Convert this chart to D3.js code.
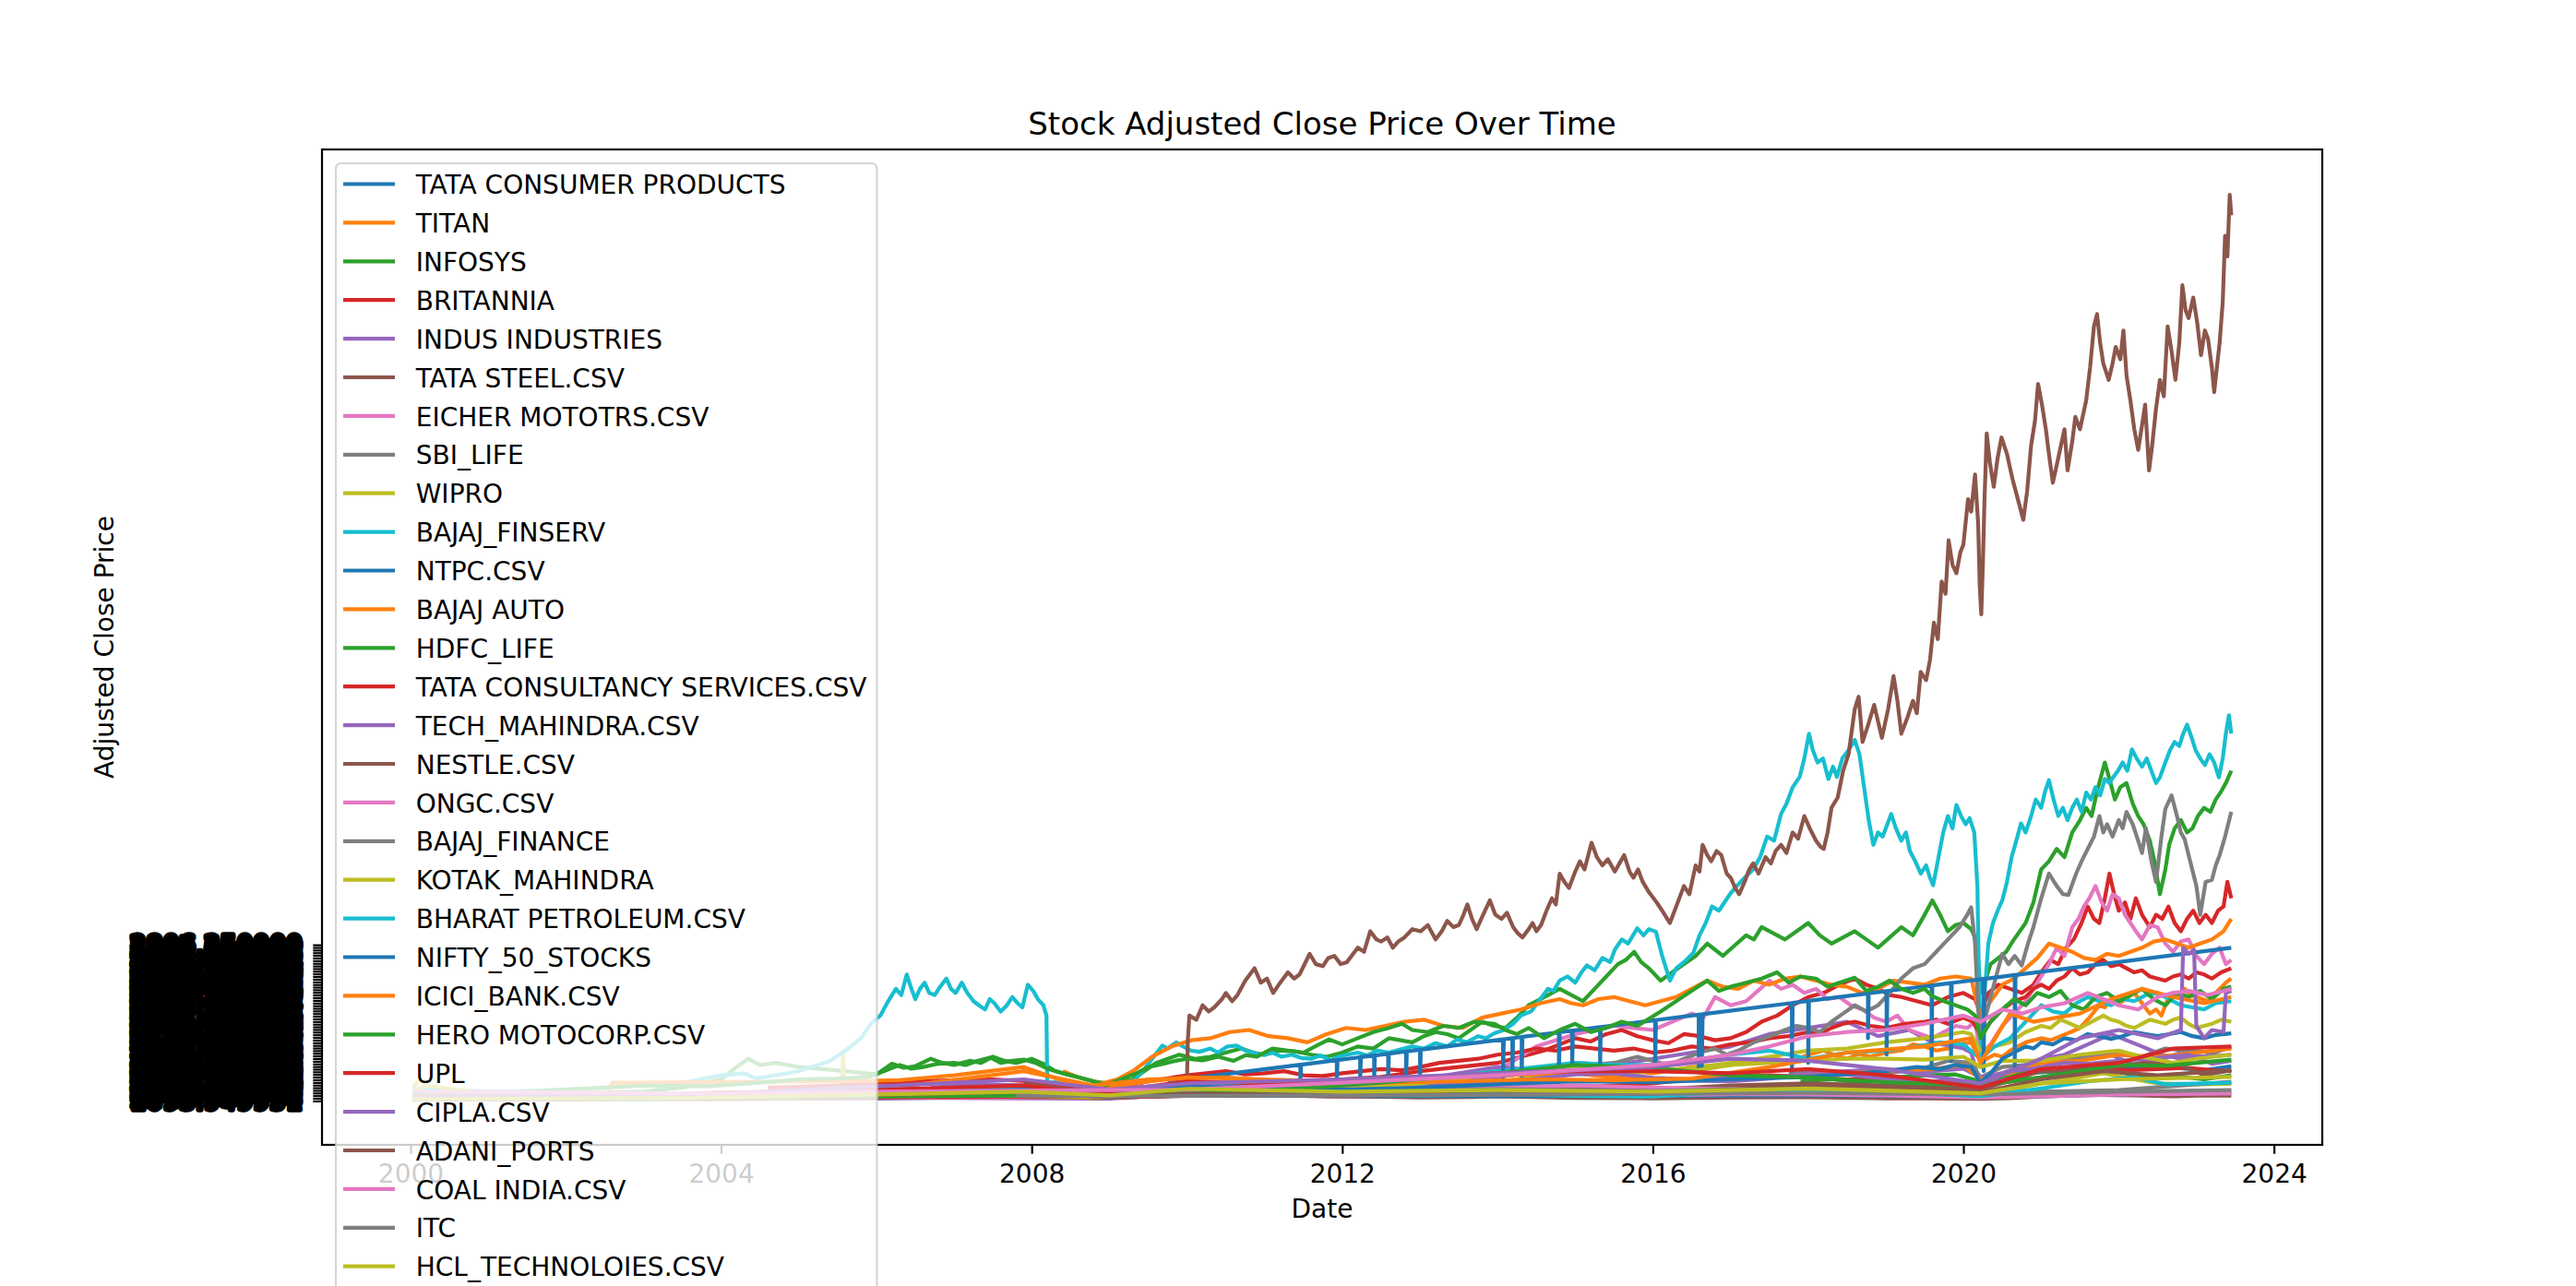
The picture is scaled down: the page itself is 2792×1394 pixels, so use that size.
<!DOCTYPE html>
<html>
<head>
<meta charset="utf-8">
<title>Stock Adjusted Close Price Over Time</title>
<script src="https://cdn.jsdelivr.net/npm/d3@7"></script>
<style>
  html, body { margin: 0; padding: 0; background: #ffffff; }
  svg { display: block; font-family: "DejaVu Sans", sans-serif; }
</style>
</head>
<body>
<div id="chart"></div>
<script>
// Series: [decimal year, adjusted close]
const tataConsumer = [[2000.03,40],[2002,35],[2004,60],[2006,90],[2007.9,110],[2008.8,50],[2010,100],[2011,110],[2012,140],[2013,170],[2014,180],[2015,200],[2016,160],[2017,190],[2018,280],[2019,260],[2019.6,330],[2020.1,380],[2020.22,260],[2020.5,560],[2020.8,650],[2021.1,680],[2021.4,720],[2021.7,830],[2022.0,760],[2022.3,800],[2022.7,790],[2023.1,720],[2023.45,820]];
const titan = [[2000.03,10],[2002,12],[2003,15],[2004,25],[2005,40],[2006,70],[2007,100],[2008,130],[2008.8,60],[2009.5,120],[2010,200],[2010.5,300],[2011,320],[2011.5,350],[2012,300],[2012.5,450],[2013,420],[2013.5,350],[2014,400],[2014.5,600],[2015,700],[2015.5,750],[2016,650],[2016.5,800],[2017,850],[2017.3,950],[2017.5,1000],[2017.8,950],[2018.0,1100],[2018.2,1200],[2018.35,1080],[2018.5,1000],[2018.65,1120],[2018.8,1050],[2019.0,1150],[2019.2,1200],[2019.35,1350],[2019.5,1300],[2019.65,1200],[2019.8,1250],[2019.95,1350],[2020.1,1400],[2020.17,1150],[2020.22,900],[2020.3,1000],[2020.4,1100],[2020.5,1050],[2020.6,1200],[2020.7,1300],[2020.8,1400],[2020.9,1450],[2021.0,1500],[2021.12,1450],[2021.25,1550],[2021.38,1650],[2021.5,1750],[2021.62,2000],[2021.75,2300],[2021.82,2250],[2021.9,2450],[2021.98,2350],[2022.05,2400],[2022.12,2500],[2022.2,2600],[2022.3,2350],[2022.4,2100],[2022.48,2200],[2022.55,2050],[2022.62,2400],[2022.7,2600],[2022.78,2550],[2022.85,2700],[2022.92,2550],[2023.0,2500],[2023.08,2450],[2023.15,2400],[2023.22,2550],[2023.3,2700],[2023.38,2850],[2023.45,2950]];
const infosys = [[2000.03,150],[2000.5,180],[2001,140],[2002,160],[2003,200],[2003.5,300],[2004,500],[2004.2,800],[2004.35,1000],[2004.5,850],[2004.7,900],[2005,800],[2005.3,750],[2005.6,700],[2006.0,620],[2006.2,880],[2006.35,780],[2006.5,820],[2006.7,1000],[2006.85,900],[2007.0,850],[2007.2,950],[2007.35,900],[2007.5,1050],[2007.65,950],[2007.8,900],[2008.0,1000],[2008.15,880],[2008.3,700],[2008.45,620],[2008.6,550],[2008.8,450],[2009.0,400],[2009.15,430],[2009.3,500],[2009.45,700],[2009.6,900],[2009.75,1000],[2009.9,1100],[2010.1,1000],[2010.3,1050],[2010.5,1150],[2010.7,1250],[2010.85,1150],[2011.0,1100],[2011.2,1200],[2011.4,1180],[2011.6,1100],[2011.8,1050],[2012.0,1150],[2012.2,1300],[2012.4,1250],[2012.6,1500],[2012.75,1450],[2012.9,1400],[2013.05,1550],[2013.2,1650],[2013.35,1600],[2013.5,1500],[2013.65,1700],[2013.8,1900],[2013.95,1800],[2014.1,1750],[2014.25,2000],[2014.4,2300],[2014.55,2450],[2014.7,2600],[2014.8,2700],[2014.95,2550],[2015.1,2400],[2015.25,2700],[2015.4,3000],[2015.55,3300],[2015.65,3400],[2015.76,3600],[2015.85,3350],[2015.95,3200],[2016.1,2900],[2016.25,3100],[2016.4,3300],[2016.55,3500],[2016.7,3800],[2016.8,3650],[2016.9,3500],[2017.05,3750],[2017.2,4000],[2017.3,3900],[2017.4,4200],[2017.55,4050],[2017.7,3900],[2017.85,4100],[2018.0,4300],[2018.15,4000],[2018.3,3800],[2018.45,3950],[2018.6,4100],[2018.75,3900],[2018.9,3700],[2019.05,3950],[2019.2,4200],[2019.35,4000],[2019.5,4500],[2019.6,4850],[2019.7,4500],[2019.8,4100],[2019.9,4250],[2020.0,4300],[2020.1,4150],[2020.15,3950],[2020.2,3200],[2020.22,2600],[2020.28,2900],[2020.35,3300],[2020.45,3450],[2020.55,3600],[2020.65,3900],[2020.8,4300],[2020.9,4800],[2021.0,5600],[2021.1,5800],[2021.2,6100],[2021.3,5900],[2021.4,6500],[2021.5,6800],[2021.58,7100],[2021.65,6900],[2021.72,7500],[2021.82,8200],[2021.88,7800],[2021.95,7300],[2022.02,7600],[2022.1,7700],[2022.18,7200],[2022.25,6900],[2022.32,6700],[2022.4,6300],[2022.46,5800],[2022.53,5000],[2022.6,5600],[2022.65,6200],[2022.72,6600],[2022.8,6800],[2022.88,6500],[2022.95,6600],[2023.02,6900],[2023.1,7100],[2023.18,7000],[2023.25,7300],[2023.32,7500],[2023.38,7700],[2023.45,8000]];
const britannia = [[2000.03,100],[2001,90],[2002,110],[2003,130],[2004,180],[2005,200],[2006,220],[2007,240],[2008,250],[2008.8,200],[2009.5,260],[2010,350],[2010.5,380],[2011,420],[2011.5,460],[2012,500],[2012.5,560],[2013,700],[2013.5,800],[2014,900],[2014.3,1050],[2014.6,1200],[2014.8,1350],[2015.0,1500],[2015.2,1420],[2015.4,1600],[2015.6,1700],[2015.8,1550],[2016.0,1450],[2016.2,1380],[2016.4,1600],[2016.6,1550],[2016.8,1450],[2017.0,1500],[2017.2,1650],[2017.4,1900],[2017.6,2050],[2017.8,2300],[2018.0,2500],[2018.2,2600],[2018.4,2800],[2018.6,2950],[2018.75,2800],[2018.9,2700],[2019.05,2550],[2019.2,2500],[2019.4,2400],[2019.6,2300],[2019.8,2500],[2020.0,2600],[2020.15,2450],[2020.22,2100],[2020.32,2600],[2020.45,2800],[2020.6,2700],[2020.75,2600],[2020.9,2800],[2021.0,3100],[2021.12,3400],[2021.22,3300],[2021.32,3700],[2021.42,3900],[2021.52,4300],[2021.6,4700],[2021.68,4400],[2021.75,4300],[2021.82,4900],[2021.88,5500],[2021.94,5000],[2022.0,4600],[2022.08,4800],[2022.15,4400],[2022.22,4900],[2022.3,4500],[2022.4,4200],[2022.48,4500],[2022.56,4400],[2022.64,4700],[2022.72,4300],[2022.8,4100],[2022.88,4400],[2022.96,4600],[2023.04,4300],[2023.12,4500],[2023.2,4300],[2023.28,4600],[2023.35,4700],[2023.4,5300],[2023.45,4900]];
const indus = [[2000.03,10],[2002,8],[2004,20],[2006,30],[2007,50],[2008,40],[2009,30],[2010,150],[2011,250],[2012,350],[2013,400],[2014,550],[2014.5,700],[2015,900],[2015.5,850],[2016,1000],[2016.5,1150],[2017,1300],[2017.5,1600],[2018,1750],[2018.5,1900],[2018.9,1550],[2019.3,1700],[2019.6,1400],[2020.0,1250],[2020.1,1150],[2020.22,350],[2020.35,450],[2020.5,500],[2020.8,800],[2021.0,950],[2021.3,900],[2021.6,1000],[2021.9,1100],[2022.2,850],[2022.5,950],[2022.8,1150],[2023.1,1050],[2023.45,1300]];
const tataSteel = [[2000.03,30],[2002,25],[2003,40],[2004,80],[2005,70],[2006,90],[2007,110],[2008,150],[2008.8,40],[2009.5,80],[2010,110],[2010.5,100],[2011,120],[2011.8,80],[2012.5,75],[2013,60],[2013.7,70],[2014,90],[2015,50],[2016,40],[2017,60],[2018,65],[2019,40],[2019.6,38],[2020.22,25],[2020.6,45],[2021,80],[2021.4,110],[2021.6,125],[2022.2,110],[2022.7,90],[2023.1,110],[2023.45,105]];
const eicher = [[2000.03,20],[2004,40],[2006,60],[2008,50],[2009,60],[2010,150],[2011,250],[2012,350],[2013,500],[2014,700],[2014.5,1300],[2015,1600],[2015.5,1800],[2016,1700],[2016.25,1900],[2016.5,2100],[2016.65,2000],[2016.8,2500],[2017.0,2300],[2017.2,2400],[2017.35,2650],[2017.5,2900],[2017.65,2700],[2017.8,2800],[2017.95,2600],[2018.1,2700],[2018.25,2450],[2018.4,2500],[2018.55,2300],[2018.7,2200],[2018.85,2000],[2019.0,1900],[2019.15,2050],[2019.3,1700],[2019.45,1600],[2019.6,1500],[2019.75,1650],[2019.9,1800],[2020.05,1750],[2020.15,1900],[2020.22,1100],[2020.35,1350],[2020.5,1800],[2020.65,2100],[2020.8,2400],[2020.9,2700],[2021.0,3000],[2021.1,3300],[2021.2,3700],[2021.3,3500],[2021.4,4200],[2021.48,4400],[2021.55,4700],[2021.62,4900],[2021.7,5200],[2021.78,4800],[2021.85,4600],[2021.92,5000],[2022.0,4900],[2022.08,4500],[2022.15,4300],[2022.22,4100],[2022.3,3900],[2022.4,4250],[2022.5,4200],[2022.6,3800],[2022.7,3600],[2022.8,3850],[2022.9,3900],[2023.0,3500],[2023.1,3300],[2023.2,3550],[2023.3,3700],[2023.38,3300],[2023.45,3400]];
const sbiLife = [[2017.75,650],[2018.0,700],[2018.3,650],[2018.6,620],[2018.9,600],[2019.2,700],[2019.5,780],[2019.8,950],[2020.1,900],[2020.22,550],[2020.5,800],[2020.8,850],[2021.0,900],[2021.3,950],[2021.5,1050],[2021.8,1150],[2022.0,1100],[2022.3,1050],[2022.6,1250],[2022.9,1200],[2023.2,1150],[2023.45,1280]];
const wipro = [[2000.03,300],[2000.12,500],[2000.25,280],[2000.5,250],[2001,200],[2002,150],[2003,100],[2004,120],[2005,140],[2005.55,160],[2005.57,1100],[2005.59,170],[2006,170],[2007,160],[2008,120],[2009,80],[2010,150],[2011,140],[2012,120],[2013,140],[2014,200],[2015,220],[2016,190],[2017,200],[2018,250],[2019,240],[2020.22,170],[2020.6,250],[2021,400],[2021.5,550],[2021.8,650],[2022.2,500],[2022.5,400],[2023,380],[2023.45,390]];
const bajajFinserv = [[2000.03,260],[2000.5,230],[2001,200],[2001.5,220],[2002,250],[2002.6,310],[2003,350],[2003.3,330],[2003.6,450],[2004,600],[2004.3,650],[2004.45,520],[2004.7,600],[2005,700],[2005.2,820],[2005.4,950],[2005.6,1200],[2005.8,1500],[2005.95,1900],[2006.05,2050],[2006.15,2400],[2006.25,2700],[2006.32,2550],[2006.39,3050],[2006.45,2700],[2006.5,2450],[2006.56,2700],[2006.62,2850],[2006.68,2600],[2006.75,2550],[2006.82,2750],[2006.9,2950],[2006.96,2700],[2007.02,2600],[2007.1,2850],[2007.17,2600],[2007.25,2400],[2007.32,2300],[2007.4,2200],[2007.46,2450],[2007.52,2350],[2007.6,2150],[2007.68,2300],[2007.75,2500],[2007.82,2350],[2007.88,2250],[2007.95,2800],[2008.02,2650],[2008.08,2450],[2008.15,2300],[2008.19,2050],[2008.2,420],[2008.3,430],[2008.4,380],[2008.5,400],[2008.6,330],[2008.7,300],[2008.8,250],[2008.97,340],[2009.1,300],[2009.2,380],[2009.33,490],[2009.45,750],[2009.55,1000],[2009.68,1320],[2009.75,1250],[2009.86,1400],[2009.95,1300],[2010.05,1200],[2010.16,1170],[2010.3,1250],[2010.4,1150],[2010.52,1300],[2010.64,1320],[2010.75,1200],[2010.85,1150],[2010.99,1090],[2011.1,1150],[2011.22,1050],[2011.35,1100],[2011.47,1020],[2011.6,1000],[2011.72,1080],[2011.85,960],[2011.95,1050],[2012.06,1100],[2012.2,1150],[2012.32,1080],[2012.45,1200],[2012.6,1150],[2012.77,1240],[2012.9,1300],[2013.05,1250],[2013.2,1380],[2013.35,1300],[2013.48,1470],[2013.6,1400],[2013.75,1550],[2013.85,1500],[2013.96,1620],[2014.08,1700],[2014.2,1850],[2014.3,2050],[2014.43,2150],[2014.55,2450],[2014.65,2700],[2014.72,2650],[2014.8,2900],[2014.9,3000],[2015.0,2850],[2015.08,3100],[2015.15,3270],[2015.25,3150],[2015.35,3450],[2015.45,3350],[2015.51,3650],[2015.6,3900],[2015.68,3800],[2015.8,4170],[2015.88,4000],[2015.95,4150],[2016.04,4090],[2016.12,3500],[2016.22,2900],[2016.3,3200],[2016.4,3350],[2016.52,3570],[2016.6,4000],[2016.68,4300],[2016.76,4700],[2016.85,4600],[2016.92,4800],[2016.99,5000],[2017.08,5200],[2017.18,5400],[2017.29,5600],[2017.38,5900],[2017.47,6400],[2017.56,6300],[2017.65,6950],[2017.72,7200],[2017.8,7600],[2017.89,7850],[2017.95,8300],[2018.01,8900],[2018.06,8500],[2018.12,8200],[2018.19,8300],[2018.26,7800],[2018.32,8100],[2018.37,7850],[2018.44,8300],[2018.52,8500],[2018.6,8750],[2018.66,8400],[2018.72,7600],[2018.78,6800],[2018.84,6200],[2018.9,6500],[2018.96,6400],[2019.02,6700],[2019.07,6950],[2019.13,6600],[2019.2,6300],[2019.26,6500],[2019.31,6050],[2019.38,5800],[2019.45,5500],[2019.52,5700],[2019.57,5400],[2019.61,5220],[2019.68,5900],[2019.74,6500],[2019.8,6900],[2019.86,6600],[2019.91,7170],[2019.97,6900],[2020.03,6700],[2020.08,6850],[2020.14,6500],[2020.18,5200],[2020.2,3000],[2020.22,1500],[2020.24,900],[2020.27,2500],[2020.32,3800],[2020.38,4300],[2020.44,4600],[2020.5,4850],[2020.56,5300],[2020.62,5900],[2020.68,6300],[2020.74,6720],[2020.8,6500],[2020.87,6900],[2020.93,7300],[2021.0,7100],[2021.05,7500],[2021.1,7770],[2021.16,7300],[2021.22,6900],[2021.28,7100],[2021.34,6800],[2021.4,7100],[2021.46,7300],[2021.52,7000],[2021.58,7470],[2021.64,7300],[2021.7,7600],[2021.76,7400],[2021.82,7800],[2021.88,7700],[2021.93,7850],[2021.99,8000],[2022.05,8200],[2022.11,8000],[2022.17,8520],[2022.23,8300],[2022.3,8100],[2022.36,8300],[2022.42,8000],[2022.48,7700],[2022.53,7840],[2022.6,8200],[2022.66,8500],[2022.72,8700],[2022.78,8600],[2022.83,8900],[2022.88,9120],[2022.94,8800],[2022.99,8500],[2023.05,8300],[2023.11,8140],[2023.17,8400],[2023.23,8200],[2023.29,7840],[2023.34,8300],[2023.38,8900],[2023.42,9350],[2023.45,8900]];
const ntpc = [[2004.8,60],[2006,70],[2007,100],[2008,120],[2009,100],[2010,110],[2012,100],[2014,90],[2016,100],[2018,110],[2019,95],[2020.22,70],[2021,90],[2022,130],[2023.45,170]];
const bajajAuto = [[2008.4,700],[2008.6,550],[2008.9,400],[2009.1,500],[2009.3,700],[2009.55,1050],[2009.8,1300],[2010.05,1450],[2010.3,1500],[2010.55,1650],[2010.8,1700],[2011.05,1550],[2011.3,1500],[2011.55,1400],[2011.8,1600],[2012.05,1750],[2012.3,1700],[2012.55,1800],[2012.8,1900],[2013.05,1950],[2013.3,1800],[2013.55,1750],[2013.8,2000],[2014.05,2100],[2014.3,2200],[2014.55,2350],[2014.8,2450],[2014.95,2350],[2015.1,2300],[2015.3,2450],[2015.5,2500],[2015.7,2400],[2015.9,2300],[2016.1,2400],[2016.3,2500],[2016.5,2700],[2016.7,2900],[2016.9,2750],[2017.1,2700],[2017.3,2900],[2017.5,2800],[2017.7,2950],[2017.9,3000],[2018.1,2900],[2018.3,2800],[2018.5,2750],[2018.7,2600],[2018.9,2700],[2019.1,2900],[2019.3,2850],[2019.5,2800],[2019.7,2950],[2019.9,3000],[2020.1,2950],[2020.22,2000],[2020.35,2400],[2020.5,2800],[2020.65,2950],[2020.8,3200],[2020.95,3450],[2021.1,3800],[2021.25,3700],[2021.4,3600],[2021.55,3450],[2021.7,3400],[2021.85,3550],[2022.0,3500],[2022.15,3600],[2022.3,3700],[2022.45,3850],[2022.6,3900],[2022.75,3800],[2022.9,3700],[2023.05,3800],[2023.2,3900],[2023.35,4100],[2023.45,4400]];
const hdfcLife = [[2017.9,450],[2018.3,500],[2018.7,420],[2019.1,550],[2019.5,600],[2019.9,620],[2020.22,450],[2020.6,620],[2021.0,700],[2021.5,680],[2021.9,720],[2022.3,560],[2022.7,580],[2023.1,500],[2023.45,600]];
const tcs = [[2004.6,300],[2005.0,320],[2005.5,350],[2006.0,420],[2006.5,450],[2007.0,480],[2007.5,500],[2008.0,450],[2008.5,300],[2009.0,250],[2009.5,450],[2010.0,600],[2010.25,650],[2010.5,700],[2010.75,620],[2011.0,650],[2011.25,700],[2011.5,600],[2011.75,580],[2012.0,650],[2012.25,700],[2012.5,750],[2012.75,720],[2013.0,800],[2013.25,900],[2013.5,950],[2013.75,1000],[2014.0,1100],[2014.25,1150],[2014.5,1250],[2014.75,1200],[2015.0,1300],[2015.25,1250],[2015.5,1200],[2015.75,1250],[2016.0,1150],[2016.25,1200],[2016.5,1300],[2016.75,1250],[2017.0,1350],[2017.25,1400],[2017.5,1500],[2017.75,1550],[2018.0,1650],[2018.15,1600],[2018.3,1750],[2018.45,1850],[2018.6,1900],[2018.8,1800],[2019.0,1750],[2019.25,1850],[2019.5,1900],[2019.65,1950],[2019.8,1850],[2020.0,2000],[2020.12,1900],[2020.22,1600],[2020.35,1900],[2020.5,2200],[2020.65,2400],[2020.8,2500],[2020.9,2700],[2021.0,2800],[2021.1,2700],[2021.2,2900],[2021.3,3000],[2021.4,3200],[2021.5,3050],[2021.6,3100],[2021.7,3300],[2021.8,3400],[2021.9,3250],[2022.0,3300],[2022.1,3200],[2022.2,3100],[2022.3,3150],[2022.4,3000],[2022.5,2950],[2022.6,2900],[2022.7,3000],[2022.8,3050],[2022.9,2950],[2023.0,3100],[2023.1,3050],[2023.2,2950],[2023.32,3100],[2023.45,3200]];
const techMahindra = [[2006.7,300],[2007.3,380],[2008,350],[2008.5,200],[2009,100],[2009.5,180],[2010,250],[2010.5,230],[2011,200],[2011.5,260],[2012,300],[2012.5,380],[2013,500],[2013.5,650],[2014,800],[2014.5,720],[2015,650],[2015.5,560],[2016,500],[2016.5,470],[2017,450],[2017.5,520],[2018,650],[2018.5,700],[2019,750],[2019.5,680],[2020,760],[2020.22,550],[2020.5,650],[2020.8,850],[2021,1000],[2021.3,1100],[2021.6,1350],[2021.9,1600],[2022.1,1450],[2022.3,1300],[2022.55,1100],[2022.8,1000],[2023.1,1050],[2023.45,1100]];
const nestle = [[2010.00,600],[2010.01,1450],[2010.03,2050],[2010.12,1950],[2010.2,2300],[2010.28,2150],[2010.35,2250],[2010.45,2450],[2010.5,2600],[2010.58,2400],[2010.65,2550],[2010.75,2900],[2010.87,3200],[2010.95,2850],[2011.03,2950],[2011.11,2600],[2011.2,2850],[2011.3,3100],[2011.38,2950],[2011.45,3050],[2011.58,3550],[2011.66,3300],[2011.75,3250],[2011.82,3450],[2011.9,3500],[2011.98,3300],[2012.06,3350],[2012.14,3550],[2012.2,3700],[2012.28,3600],[2012.36,4100],[2012.44,3900],[2012.5,3850],[2012.58,3950],[2012.65,3700],[2012.72,3850],[2012.8,3950],[2012.9,4150],[2013.01,4100],[2013.1,4250],[2013.2,3900],[2013.28,4100],[2013.35,4350],[2013.43,4200],[2013.5,4250],[2013.56,4500],[2013.61,4750],[2013.67,4400],[2013.73,4150],[2013.8,4450],[2013.9,4850],[2013.97,4500],[2014.05,4400],[2014.12,4550],[2014.2,4200],[2014.26,4050],[2014.32,3950],[2014.4,4150],[2014.45,4300],[2014.5,4100],[2014.56,4250],[2014.63,4600],[2014.7,4900],[2014.75,4750],[2014.8,5500],[2014.86,5300],[2014.92,5150],[2015.0,5550],[2015.06,5800],[2015.12,5600],[2015.21,6250],[2015.28,5900],[2015.35,5700],[2015.42,5850],[2015.51,5550],[2015.57,5750],[2015.63,5950],[2015.7,5550],[2015.75,5400],[2015.81,5600],[2015.87,5300],[2015.95,5050],[2016.05,4800],[2016.12,4600],[2016.22,4300],[2016.3,4700],[2016.4,5200],[2016.47,5000],[2016.55,5700],[2016.6,5550],[2016.64,6200],[2016.7,5950],[2016.75,5800],[2016.82,6050],[2016.88,5950],[2016.95,5500],[2017.0,5400],[2017.06,5150],[2017.11,5000],[2017.18,5300],[2017.24,5600],[2017.29,5750],[2017.36,5500],[2017.45,5900],[2017.52,5750],[2017.58,6050],[2017.65,6200],[2017.72,6000],[2017.8,6500],[2017.87,6350],[2017.95,6900],[2018.02,6600],[2018.1,6300],[2018.16,6150],[2018.2,6100],[2018.25,6500],[2018.3,7100],[2018.38,7350],[2018.45,8000],[2018.52,8400],[2018.6,9500],[2018.65,9800],[2018.7,8700],[2018.77,9100],[2018.85,9600],[2018.9,9200],[2018.95,8800],[2019.03,9500],[2019.1,10300],[2019.15,9700],[2019.2,8900],[2019.28,9300],[2019.35,9700],[2019.4,9400],[2019.45,10400],[2019.52,10200],[2019.57,10700],[2019.62,11600],[2019.67,11200],[2019.72,12600],[2019.77,12300],[2019.81,13600],[2019.86,13000],[2019.91,12800],[2019.96,13300],[2020.0,13500],[2020.06,14600],[2020.1,14300],[2020.15,15200],[2020.19,14000],[2020.21,12500],[2020.23,11800],[2020.25,13000],[2020.27,14500],[2020.3,16200],[2020.34,15500],[2020.39,14900],[2020.44,15600],[2020.49,16100],[2020.56,15700],[2020.63,15100],[2020.7,14600],[2020.77,14100],[2020.82,14800],[2020.87,15900],[2020.92,16500],[2020.96,17400],[2021.01,16900],[2021.06,16300],[2021.1,15700],[2021.15,15000],[2021.22,15600],[2021.3,16300],[2021.34,15300],[2021.4,16000],[2021.44,16600],[2021.5,16300],[2021.58,17000],[2021.63,17800],[2021.68,18800],[2021.72,19100],[2021.76,18400],[2021.8,17900],[2021.87,17500],[2021.92,17900],[2021.96,18300],[2022.02,18000],[2022.06,18700],[2022.1,17600],[2022.15,17000],[2022.2,16300],[2022.25,15800],[2022.3,16400],[2022.34,16900],[2022.39,15300],[2022.43,15900],[2022.48,16800],[2022.53,17500],[2022.58,17100],[2022.63,18800],[2022.68,18200],[2022.73,17500],[2022.78,18400],[2022.82,19800],[2022.86,19200],[2022.9,19000],[2022.96,19500],[2023.01,18900],[2023.06,18100],[2023.11,18700],[2023.15,18500],[2023.2,17800],[2023.23,17200],[2023.27,17900],[2023.3,18400],[2023.34,19400],[2023.37,21000],[2023.4,20500],[2023.43,22000],[2023.45,21500]];
const ongc = [[2000.03,40],[2004,80],[2006,100],[2008,130],[2009,90],[2010,130],[2012,110],[2014,150],[2016,110],[2017,140],[2018,130],[2019,110],[2020.22,60],[2021,90],[2022,130],[2023.45,155]];
const bajajFinance = [[2003.0,40],[2005,60],[2007,90],[2008.5,60],[2009.5,90],[2010,120],[2011,150],[2012,200],[2012.6,280],[2013,250],[2013.5,300],[2014,350],[2014.3,450],[2014.6,600],[2014.9,750],[2015.2,850],[2015.5,900],[2015.8,1050],[2016.0,950],[2016.2,850],[2016.4,1000],[2016.6,1150],[2016.8,1250],[2016.95,1100],[2017.1,1200],[2017.3,1400],[2017.5,1550],[2017.7,1700],[2017.85,1800],[2018.0,1750],[2018.15,1650],[2018.3,1900],[2018.45,2100],[2018.6,2300],[2018.75,2150],[2018.9,2300],[2019.05,2600],[2019.2,2950],[2019.35,3200],[2019.5,3300],[2019.65,3600],[2019.8,3900],[2019.95,4200],[2020.05,4500],[2020.1,4680],[2020.15,3800],[2020.19,2200],[2020.22,1500],[2020.27,1900],[2020.35,2500],[2020.42,3000],[2020.5,3550],[2020.58,3300],[2020.66,3500],[2020.75,3270],[2020.83,3800],[2020.9,4200],[2021.0,4900],[2021.1,5500],[2021.2,5200],[2021.28,5000],[2021.35,4980],[2021.45,5500],[2021.52,5800],[2021.6,6100],[2021.68,6400],[2021.75,6900],[2021.8,6500],[2021.85,6700],[2021.92,6400],[2022.0,6800],[2022.05,6600],[2022.1,7000],[2022.18,6700],[2022.25,6300],[2022.3,6000],[2022.35,6600],[2022.42,5800],[2022.48,5300],[2022.55,6400],[2022.6,7070],[2022.68,7400],[2022.75,6900],[2022.8,6500],[2022.85,6330],[2022.92,5800],[2023.0,5200],[2023.05,4500],[2023.12,5300],[2023.2,5350],[2023.25,5700],[2023.3,5950],[2023.37,6400],[2023.45,7000]];
const kotak = [[2000.03,8],[2003,15],[2005,40],[2007,120],[2008.8,50],[2010,200],[2011,240],[2012,280],[2013,350],[2014,450],[2014.5,550],[2015,650],[2015.5,620],[2016,700],[2016.5,780],[2017,900],[2017.5,1050],[2018,1200],[2018.5,1250],[2019,1400],[2019.5,1500],[2020,1650],[2020.1,1600],[2020.22,1200],[2020.4,1300],[2020.6,1400],[2020.8,1650],[2021,1800],[2021.12,1750],[2021.25,1950],[2021.38,1850],[2021.5,1750],[2021.65,1900],[2021.8,2050],[2021.9,1950],[2022.0,1900],[2022.1,1800],[2022.2,1750],[2022.3,1850],[2022.4,1950],[2022.5,1900],[2022.6,1850],[2022.7,1950],[2022.8,2000],[2022.9,1850],[2023,1750],[2023.1,1800],[2023.2,1850],[2023.32,1950],[2023.45,1900]];
const bpcl = [[2000.03,60],[2002,70],[2004,150],[2005,180],[2006,250],[2007,280],[2008,300],[2008.8,200],[2009.5,300],[2010,400],[2011,380],[2012,450],[2013,500],[2014,700],[2014.5,800],[2015,900],[2015.5,850],[2016,850],[2016.5,950],[2017,1100],[2017.5,1200],[2018,1000],[2018.5,1150],[2019,1200],[2019.4,1300],[2019.7,1400],[2020.0,1350],[2020.22,1000],[2020.4,1300],[2020.6,1500],[2020.8,1900],[2021.0,2300],[2021.15,2150],[2021.3,2100],[2021.45,2350],[2021.6,2500],[2021.75,2400],[2021.9,2300],[2022.05,2450],[2022.2,2400],[2022.35,2550],[2022.5,2600],[2022.65,2450],[2022.8,2300],[2022.95,2250],[2023.1,2200],[2023.25,2350],[2023.45,2400]];
const nifty = [[2009.75,450],[2011.46,855],[2011.46,420],[2011.47,857],[2011.93,967],[2011.93,430],[2011.94,969],[2012.23,1038],[2012.23,440],[2012.24,1040],[2012.41,1080],[2012.41,520],[2012.42,1082],[2012.59,1123],[2012.59,460],[2012.6,1125],[2012.82,1178],[2012.82,480],[2012.83,1180],[2013.0,1220],[2013.0,500],[2013.01,1222],[2014.07,1474],[2014.07,560],[2014.08,1476],[2014.19,1502],[2014.19,600],[2014.2,1504],[2014.31,1531],[2014.31,580],[2014.32,1533],[2014.79,1644],[2014.79,620],[2014.8,1646],[2014.96,1685],[2014.96,650],[2014.97,1687],[2015.32,1770],[2015.32,700],[2015.33,1772],[2016.03,1938],[2016.03,760],[2016.04,1940],[2016.59,2071],[2016.59,800],[2016.6,2073],[2016.63,2081],[2016.63,780],[2016.64,2083],[2017.79,2355],[2017.79,700],[2017.8,2357],[2018.0,2405],[2018.0,900],[2018.01,2407],[2018.77,2588],[2018.77,1500],[2018.78,2590],[2019.01,2645],[2019.01,1100],[2019.02,2647],[2019.59,2782],[2019.59,850],[2019.6,2784],[2019.84,2841],[2019.84,950],[2019.85,2843],[2020.26,2941],[2020.26,700],[2020.27,2943],[2020.66,3036],[2020.66,800],[2020.67,3038],[2023.45,3697]];
const icici = [[2000.03,100],[2001,90],[2002.5,90],[2002.6,420],[2003.5,430],[2004.5,440],[2005.5,450],[2006.3,480],[2007,600],[2007.9,800],[2008.5,400],[2009,300],[2009.5,450],[2010,550],[2011,500],[2012,450],[2013,500],[2014,600],[2015,650],[2016,450],[2017,550],[2018,600],[2019,700],[2019.6,750],[2020,850],[2020.22,500],[2020.6,650],[2021,900],[2021.5,950],[2022,1100],[2022.5,1050],[2023,1150],[2023.45,1250]];
const hero = [[2000.03,120],[2001,150],[2002,250],[2003,350],[2003.8,330],[2004.5,420],[2005,500],[2005.5,520],[2005.9,560],[2006.1,700],[2006.3,850],[2006.45,760],[2006.6,800],[2006.8,880],[2007.0,900],[2007.15,850],[2007.3,950],[2007.47,1030],[2007.6,900],[2007.75,950],[2007.9,980],[2008.05,900],[2008.2,760],[2008.4,650],[2008.6,550],[2008.8,450],[2008.95,350],[2009.15,500],[2009.35,650],[2009.5,800],[2009.68,870],[2009.85,950],[2010.0,1000],[2010.2,960],[2010.4,1050],[2010.6,950],[2010.76,1090],[2010.9,1050],[2011.1,1250],[2011.3,1200],[2011.5,1150],[2011.7,1350],[2011.83,1470],[2012.0,1350],[2012.2,1500],[2012.4,1650],[2012.6,1750],[2012.77,1850],[2012.9,1700],[2013.1,1650],[2013.3,1800],[2013.5,1750],[2013.7,1900],[2013.96,1850],[2014.1,1700],[2014.25,1600],[2014.4,1750],[2014.6,1500],[2014.8,1700],[2015.0,1850],[2015.2,1650],[2015.4,1750],[2015.6,1900],[2015.8,1800],[2016.1,2150],[2016.3,2400],[2016.5,2650],[2016.7,2900],[2016.85,2650],[2017.0,2750],[2017.2,2850],[2017.4,2950],[2017.6,3100],[2017.75,2850],[2017.9,3000],[2018.1,2950],[2018.25,2750],[2018.4,2850],[2018.6,2970],[2018.75,2650],[2018.9,2750],[2019.05,2900],[2019.2,2700],[2019.35,2600],[2019.5,2700],[2019.6,2520],[2019.75,2400],[2019.9,2300],[2020.05,2200],[2020.15,2050],[2020.22,1500],[2020.35,1900],[2020.5,2200],[2020.65,2450],[2020.8,2300],[2020.95,2600],[2021.1,2500],[2021.25,2650],[2021.4,2300],[2021.55,2200],[2021.7,2500],[2021.85,2600],[2022.0,2400],[2022.15,2550],[2022.3,2700],[2022.45,2450],[2022.6,2300],[2022.75,2600],[2022.9,2500],[2023.05,2650],[2023.2,2450],[2023.35,2700],[2023.45,2750]];
const upl = [[2000.03,10],[2004,30],[2006,60],[2008,80],[2009,60],[2010,100],[2011,120],[2012,110],[2013,150],[2014,200],[2015,300],[2016,400],[2016.5,500],[2017,550],[2017.5,600],[2018,560],[2018.5,500],[2019,520],[2019.5,450],[2020,400],[2020.22,300],[2020.5,420],[2021,550],[2021.4,650],[2021.8,800],[2022.1,720],[2022.5,750],[2022.9,780],[2023.2,720],[2023.45,700]];
const cipla = [[2000.03,80],[2002,100],[2004,120],[2006,200],[2008,180],[2009,250],[2010,300],[2010.5,320],[2011,290],[2011.5,300],[2012,320],[2012.5,380],[2013,400],[2013.5,380],[2014,400],[2014.5,520],[2015,620],[2015.5,650],[2016,540],[2016.5,500],[2017,550],[2017.5,560],[2018,600],[2018.5,620],[2019,500],[2019.5,460],[2020,450],[2020.22,400],[2020.4,600],[2020.6,700],[2020.9,760],[2021.3,900],[2021.6,880],[2022,950],[2022.4,1000],[2022.9,1100],[2023.2,880],[2023.45,950]];
const adaniPorts = [[2007.9,400],[2008.9,150],[2010,250],[2011,150],[2012,130],[2013,150],[2014,250],[2015,300],[2016,250],[2017,350],[2018,400],[2019,350],[2020.22,250],[2021,700],[2021.8,750],[2022.3,900],[2022.8,850],[2023.1,600],[2023.45,720]];
const coalIndia = [[2010.85,300],[2011.5,350],[2012,330],[2013,300],[2014,300],[2015,350],[2016,300],[2017,260],[2018,250],[2019,200],[2020.22,110],[2021,130],[2022,170],[2023.45,230]];
const itc = [[2000.03,40],[2004,50],[2006,90],[2008,100],[2010,130],[2012,200],[2014,260],[2016,220],[2017,260],[2018,270],[2019,260],[2020.22,150],[2021,200],[2022,240],[2023.45,440]];
const hcl = [[2000.03,200],[2000.2,350],[2001,150],[2003,100],[2005,120],[2007,150],[2009,60],[2010,180],[2011,220],[2012,250],[2013,400],[2014,650],[2014.5,720],[2015,800],[2015.5,780],[2016,750],[2016.5,700],[2017,850],[2017.5,900],[2018,950],[2018.5,1000],[2019,1000],[2019.5,980],[2020,1050],[2020.22,800],[2020.5,950],[2021,950],[2021.5,1100],[2022,1200],[2022.3,1050],[2022.7,900],[2023,1000],[2023.45,1100]];
const hindalco = [[2000.03,80],[2003,60],[2005,120],[2007,180],[2008,200],[2009,60],[2010,160],[2011,180],[2012,130],[2013,110],[2014,140],[2015,100],[2016,80],[2017,200],[2018,240],[2019,200],[2020.22,90],[2021,280],[2021.6,450],[2022.2,550],[2022.6,380],[2023.45,420]];
const axisBank = [[2000.03,20],[2003,25],[2005,80],[2007.9,250],[2008.9,150],[2010,320],[2011,300],[2012,250],[2013,300],[2014,380],[2015,450],[2016,430],[2017,500],[2018,560],[2019,700],[2019.4,800],[2019.7,750],[2019.9,850],[2020.1,800],[2020.22,420],[2020.35,650],[2020.5,1000],[2020.65,1150],[2020.8,1300],[2020.9,1250],[2021.0,1400],[2021.15,1350],[2021.3,1500],[2021.45,1450],[2021.6,1600],[2021.75,1550],[2021.9,1480],[2022.05,1550],[2022.2,1650],[2022.35,1600],[2022.5,1550],[2022.65,1600],[2022.8,1650],[2022.95,1550],[2023.1,1500],[2023.25,1580],[2023.45,1620]];
const reliance = [[2000.03,80],[2002,70],[2004,100],[2006,250],[2007.9,700],[2008.8,350],[2009.5,500],[2010.5,550],[2011.5,400],[2012.5,420],[2013.5,450],[2014.5,500],[2015.5,480],[2016.5,520],[2017.5,800],[2018.5,1150],[2019.5,1300],[2020.1,1500],[2020.22,900],[2020.6,2100],[2020.9,1900],[2021.5,2100],[2021.9,2450],[2022.3,2700],[2022.7,2500],[2023.1,2350],[2023.45,2500]];
const sunPharma = [[2000.03,30],[2003,40],[2005,60],[2007,100],[2009,120],[2010,160],[2011,230],[2012,350],[2013,500],[2014,650],[2015,850],[2016,780],[2017,600],[2018,550],[2019,430],[2020.22,350],[2021,550],[2022,850],[2022.6,830],[2023.45,980]];
const mahindra = [[2000.03,40],[2004,100],[2006,250],[2007.9,350],[2008.8,150],[2010,450],[2011,400],[2012,480],[2013,550],[2014,650],[2015,700],[2016,700],[2017,650],[2018,750],[2019,600],[2020.22,300],[2021,750],[2022,900],[2022.7,1250],[2023.45,1300]];
const grasim = [[2000.03,60],[2004,150],[2007.9,500],[2009,250],[2010,400],[2012,500],[2014,650],[2016,800],[2017,1000],[2018,950],[2019,750],[2020.22,400],[2021,1000],[2021.5,1500],[2022,1700],[2022.5,1500],[2022.8,1700],[2022.83,3700],[2022.9,3550],[2022.97,3650],[2023.0,1800],[2023.1,1500],[2023.2,1700],[2023.35,1650],[2023.38,2600],[2023.45,2650]];
const jsw = [[2005,80],[2007.9,200],[2009,60],[2010,150],[2012,120],[2014,130],[2016,150],[2017,250],[2018,350],[2019,280],[2020.22,180],[2021,500],[2021.8,700],[2022.5,600],[2023.45,720]];
const hul = [[2000.03,200],[2002,180],[2004,150],[2006,200],[2008,230],[2010,250],[2012,420],[2014,600],[2016,850],[2017,1100],[2017.5,1300],[2018,1550],[2018.5,1650],[2019,1700],[2019.5,1850],[2020.0,2050],[2020.22,1900],[2020.5,2200],[2020.75,2100],[2021.0,2250],[2021.3,2350],[2021.6,2600],[2021.8,2450],[2022.0,2300],[2022.25,2200],[2022.5,2500],[2022.7,2600],[2022.9,2650],[2023.15,2550],[2023.45,2700]];
const powergrid = [[2007.8,100],[2009,90],[2010,100],[2012,110],[2014,120],[2016,150],[2018,170],[2020.22,130],[2022,200],[2023.45,240]];
const sbin = [[2000.03,20],[2004,60],[2007.9,200],[2009,110],[2010,270],[2012,200],[2014,240],[2016,200],[2018,280],[2020.22,160],[2021,400],[2022,500],[2023.45,560]];

// Legend order = plotting order
const seriesNames = [
    'TATA CONSUMER PRODUCTS', 'TITAN', 'INFOSYS', 'BRITANNIA', 'INDUS INDUSTRIES',
    'TATA STEEL.CSV', 'EICHER MOTOTRS.CSV', 'SBI_LIFE', 'WIPRO', 'BAJAJ_FINSERV',
    'NTPC.CSV', 'BAJAJ AUTO', 'HDFC_LIFE', 'TATA CONSULTANCY SERVICES.CSV', 'TECH_MAHINDRA.CSV',
    'NESTLE.CSV', 'ONGC.CSV', 'BAJAJ_FINANCE', 'KOTAK_MAHINDRA', 'BHARAT PETROLEUM.CSV',
    'NIFTY_50_STOCKS', 'ICICI_BANK.CSV', 'HERO MOTOCORP.CSV', 'UPL', 'CIPLA.CSV',
    'ADANI_PORTS', 'COAL INDIA.CSV', 'ITC', 'HCL_TECHNOLOIES.CSV', 'HINDALCO.CSV',
    'AXIS_BANK', 'RELIANCE.CSV', 'SUN_PHARMA', 'M&M.CSV', 'GRASIM',
    'JSW_STEEL.CSV', 'HINDUNILVR', 'POWERGRID.CSV', 'SBIN'
];
const seriesValues = [
    tataConsumer, titan, infosys, britannia, indus,
    tataSteel, eicher, sbiLife, wipro, bajajFinserv,
    ntpc, bajajAuto, hdfcLife, tcs, techMahindra,
    nestle, ongc, bajajFinance, kotak, bpcl,
    nifty, icici, hero, upl, cipla,
    adaniPorts, coalIndia, itc, hcl, hindalco,
    axisBank, reliance, sunPharma, mahindra, grasim,
    jsw, hul, powergrid, sbin
];

// x tick years
const xTickYears = [2000, 2004, 2008, 2012, 2016, 2020, 2024];

// y axis is categorical (string prices) - the labels pile up into one block
const yTickLabels = [
    '1093.949951', '2214.350098', '1487.800049', '3056.199951', '1762.449951', '2689.050049', '1328.599976', '3411.750000', '2045.900024', '1173.250000',
    '2876.649902', '1954.300049', '3288.100098', '1610.849976', '2437.500000', '1049.699951', '3172.399902', '2598.750000', '1836.150024', '1265.050049',
    '2921.899902', '1402.349976', '3505.649902', '2150.800049', '1718.199951', '2763.449951', '1139.900024', '3349.250000', '1893.550049', '2482.100098',
    '1556.000000', '3097.850098', '2301.699951', '1017.400024', '2839.149902', '1677.300049', '3226.949951', '1988.650024', '2647.399902', '1211.800049',
    '3458.550049', '2093.250000', '1449.099976', '2971.600098', '1795.050049', '3134.899902', '2389.449951', '1302.750000', '2714.199951', '1925.849976',
    '3562.300049', '1584.650024', '2256.949951', '1068.150024', '3015.050049', '2531.800049', '1743.399902', '3391.699951', '1187.550049', '2806.250000'
];
// value range that the categorical ticks occupy on the price axis
const yTickSpan = [-25, 3770];

/**
 * Convert a decimal year (e.g. 2018.5) to a Date.
 * @param {number} y - decimal year
 * @returns {Date}
 */
function toDate(y) {
    const yr = Math.floor(y);
    const start = Date.UTC(yr, 0, 1);
    const end = Date.UTC(yr + 1, 0, 1);
    return new Date(start + (y - yr) * (end - start));
}

/**
 * Render the multi-line chart
 * @param {string} chartId - ID of the container element
 */
function renderChart(chartId) {
    const W = 2792, H = 1394;
    const axes = { left: 349, right: 2517, top: 162, bottom: 1241 };
    const fontPx = 28;
    const lineW = 4.2;
    const colors = d3.schemeCategory10;

    const container = d3.select(`#${chartId}`);
    container.selectAll('*').remove();

    const svg = container.append('svg')
        .attr('width', W)
        .attr('height', H)
        .attr('viewBox', `0 0 ${W} ${H}`);

    svg.append('rect').attr('width', W).attr('height', H).attr('fill', '#ffffff');

    // Scales, with matplotlib's 5% margins around the data
    const allPts = seriesValues.flat();
    const [x0, x1] = d3.extent(allPts, (d) => d[0]);
    const [v0, v1] = d3.extent(allPts, (d) => d[1]);
    const xPad = (x1 - x0) * 0.05;
    const yPad = (v1 - v0) * 0.05;

    const x = d3.scaleTime()
        .domain([toDate(x0 - xPad), toDate(x1 + xPad)])
        .range([axes.left, axes.right]);

    const y = d3.scaleLinear()
        .domain([v0 - yPad, v1 + yPad])
        .range([axes.bottom, axes.top]);

    svg.append('defs').append('clipPath')
        .attr('id', 'plot-clip')
        .append('rect')
        .attr('x', axes.left)
        .attr('y', axes.top)
        .attr('width', axes.right - axes.left)
        .attr('height', axes.bottom - axes.top);

    // Lines
    const line = d3.line()
        .x((d) => x(toDate(d[0])))
        .y((d) => y(d[1]));

    svg.append('g')
        .attr('clip-path', 'url(#plot-clip)')
        .selectAll('path')
        .data(seriesValues)
        .enter()
        .append('path')
        .attr('d', line)
        .attr('fill', 'none')
        .attr('stroke', (d, i) => colors[i % 10])
        .attr('stroke-width', lineW)
        .attr('stroke-linejoin', 'round')
        .attr('stroke-linecap', 'butt');

    // Spines
    svg.append('rect')
        .attr('x', axes.left)
        .attr('y', axes.top)
        .attr('width', axes.right - axes.left)
        .attr('height', axes.bottom - axes.top)
        .attr('fill', 'none')
        .attr('stroke', '#000000')
        .attr('stroke-width', 2.2);

    // X axis
    const xAxis = svg.append('g')
        .attr('transform', `translate(0,${axes.bottom})`)
        .call(d3.axisBottom(x)
            .tickValues(xTickYears.map((yr) => toDate(yr)))
            .tickFormat(d3.utcFormat('%Y'))
            .tickSize(9.7)
            .tickPadding(11));
    xAxis.select('.domain').remove();
    xAxis.selectAll('line').attr('stroke', '#000').attr('stroke-width', 2.2);
    xAxis.selectAll('text')
        .attr('font-family', 'DejaVu Sans')
        .attr('font-size', fontPx)
        .attr('fill', '#000');
    xAxis.attr('font-size', null).attr('font-family', null);

    // Y axis: one tick per string category, labels overprint into a solid block
    const yCat = d3.scalePoint()
        .domain(yTickLabels)
        .range([y(yTickSpan[0]), y(yTickSpan[1])]);

    const yAxis = svg.append('g')
        .attr('transform', `translate(${axes.left},0)`)
        .call(d3.axisLeft(yCat).tickSize(9.7).tickPadding(11.5));
    yAxis.select('.domain').remove();
    yAxis.selectAll('line').attr('stroke', '#000').attr('stroke-width', 2.2);
    yAxis.selectAll('text')
        .attr('font-family', 'DejaVu Sans')
        .attr('font-size', fontPx)
        .attr('fill', '#000')
        .attr('stroke', '#000')
        .attr('stroke-width', 5.5)
        .attr('stroke-linejoin', 'round');
    yAxis.attr('font-size', null).attr('font-family', null);

    // Axis labels and title
    const midX = (axes.left + axes.right) / 2;
    svg.append('text')
        .attr('x', midX)
        .attr('y', 1320)
        .attr('text-anchor', 'middle')
        .attr('font-size', fontPx)
        .text('Date');

    svg.append('text')
        .attr('transform', `translate(123,${(axes.top + axes.bottom) / 2}) rotate(-90)`)
        .attr('text-anchor', 'middle')
        .attr('font-size', fontPx)
        .text('Adjusted Close Price');

    svg.append('text')
        .attr('x', midX)
        .attr('y', 145.5)
        .attr('text-anchor', 'middle')
        .attr('font-size', 34)
        .text('Stock Adjusted Close Price Over Time');

    // Legend (upper left, semi-transparent frame, runs off the figure)
    const legend = svg.append('g');
    const lgLeft = 364, lgTop = 177;
    const rowY0 = 199.5, rowStep = 41.9;
    const frame = legend.append('rect')
        .attr('x', lgLeft)
        .attr('y', lgTop)
        .attr('rx', 5.6)
        .attr('ry', 5.6)
        .attr('fill', '#ffffff')
        .attr('fill-opacity', 0.8)
        .attr('stroke', '#cccccc')
        .attr('stroke-opacity', 0.8)
        .attr('stroke-width', 2.2);

    const rows = legend.selectAll('g.row')
        .data(seriesNames)
        .enter()
        .append('g')
        .attr('class', 'row')
        .attr('transform', (d, i) => `translate(0,${rowY0 + i * rowStep})`);

    rows.append('line')
        .attr('x1', 372)
        .attr('x2', 428)
        .attr('stroke', (d, i) => colors[i % 10])
        .attr('stroke-width', lineW);

    rows.append('text')
        .attr('x', 450.7)
        .attr('y', 10.6)
        .attr('font-size', fontPx)
        .attr('fill', '#000')
        .text((d) => d);

    let maxW = 0;
    rows.selectAll('text').each(function () {
        maxW = Math.max(maxW, this.getComputedTextLength());
    });
    frame
        .attr('width', 450.7 + maxW + 11 - lgLeft)
        .attr('height', rowY0 + seriesNames.length * rowStep - lgTop);
}

renderChart('chart');
</script>
</body>
</html>
